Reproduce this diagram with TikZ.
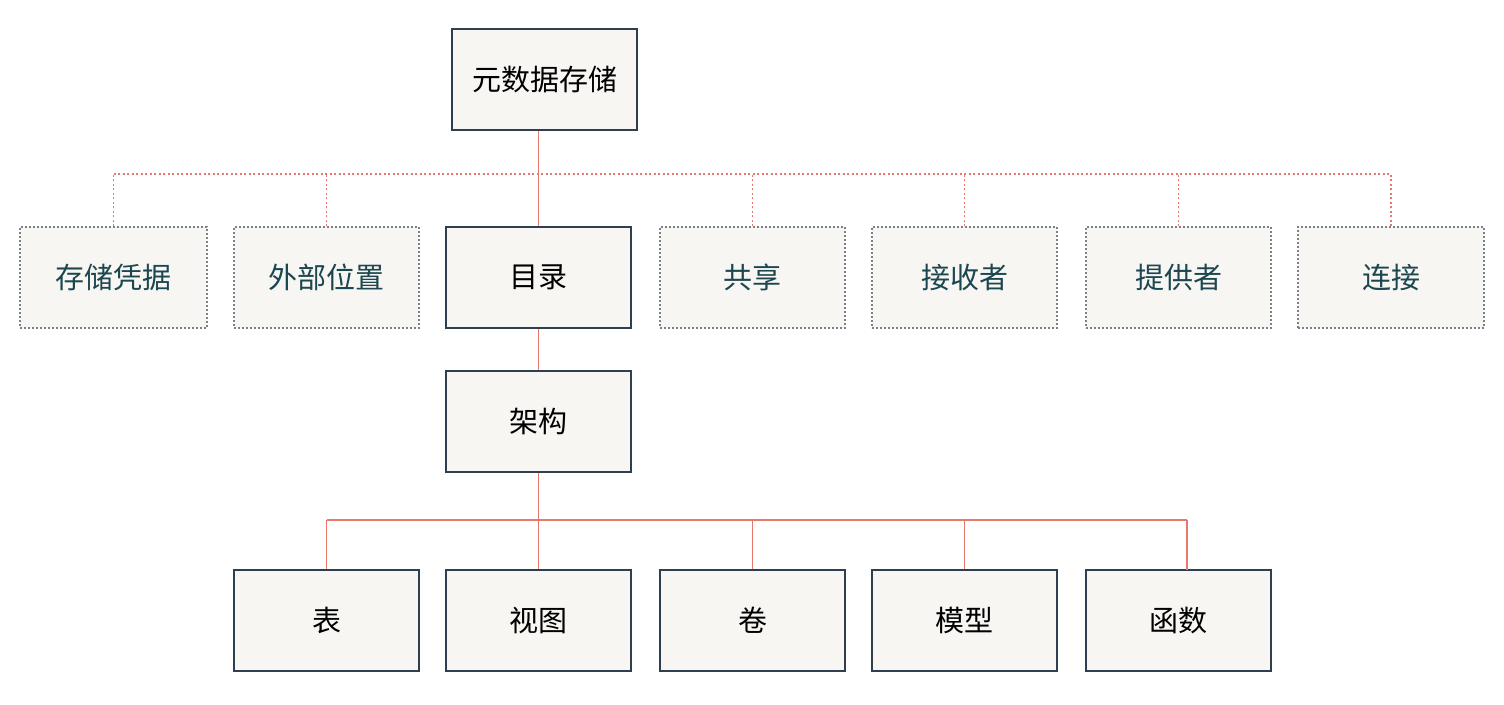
\documentclass[tikz,border=0pt]{standalone}
\usepackage{fontspec}
\newfontfamily\cjk{Noto Sans CJK SC}
\begin{document}
\begin{tikzpicture}[x=1pt,y=-1pt,
  box/.style={draw=boxline,fill=boxfill,line width=1.2pt,minimum width=185pt,minimum height=101pt,inner sep=0pt,font=\cjk\fontsize{29}{29}\selectfont,text=black},
  dbox/.style={box,draw=dotline,dash pattern=on 2pt off 2pt,text=tealtext},
  link/.style={draw=linkred,line width=1.3pt},
  dlink/.style={draw=linkred,line width=1.2pt,dash pattern=on 2pt off 2.5pt}]
\definecolor{boxline}{HTML}{2E4050}
\definecolor{dotline}{HTML}{7A8288}
\definecolor{boxfill}{HTML}{F7F6F2}
\definecolor{tealtext}{HTML}{1C4650}
\definecolor{linkred}{HTML}{E8776C}
\useasboundingbox (0,0) rectangle (1504,704);
\node[box] (root) at (544.5,79.5) {元数据存储};
\node[dbox,minimum width=187pt] (a1) at (113.5,277.5) {存储凭据};
\node[dbox] (a2) at (326.5,277.5) {外部位置};
\node[box] (cat) at (538.5,277.5) {目录};
\node[dbox] (a4) at (752.5,277.5) {共享};
\node[dbox] (a5) at (964.5,277.5) {接收者};
\node[dbox] (a6) at (1178.5,277.5) {提供者};
\node[dbox,minimum width=186pt] (a7) at (1391,277.5) {连接};
\node[box] (sch) at (538.5,421.5) {架构};
\node[box] (b1) at (326.5,620.5) {表};
\node[box] (b2) at (538.5,620.5) {视图};
\node[box] (b3) at (752.5,620.5) {卷};
\node[box] (b4) at (964.5,620.5) {模型};
\node[box] (b5) at (1178.5,620.5) {函数};
\coordinate (dl) at (113.5,174);
\coordinate (dr) at (1391,174);
\draw[dlink] (dl) -- (dr);
\foreach \n in {a1,a2,a4,a5,a6,a7}{\draw[dlink] (\n.north) -- (\n.north |- dl);}
\draw[link] (root.south -| cat.north) -- (cat.north);
\draw[link] (cat.south) -- (sch.north);
\coordinate (bl) at (326.5,520);
\coordinate (br) at (1187,520);
\draw[link] (bl) -- (br);
\draw[link] (sch.south) -- (b2.north);
\foreach \n in {b1,b3,b4}{\draw[link] (\n.north) -- (\n.north |- bl);}
\draw[link] (br) -- (1187,570);
\end{tikzpicture}
\end{document}
